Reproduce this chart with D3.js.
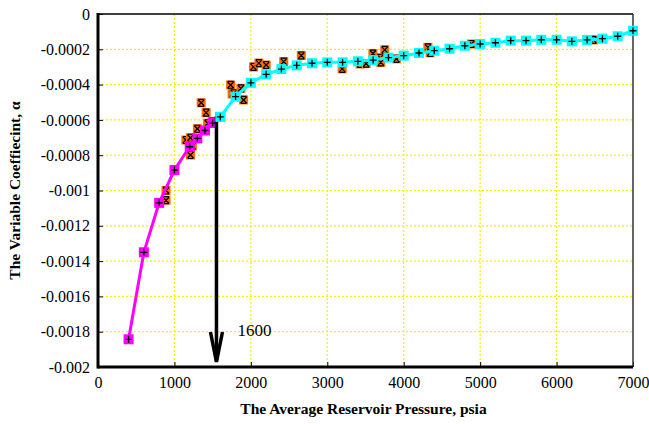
<!DOCTYPE html>
<html>
<head>
<meta charset="utf-8">
<script src="https://cdn.jsdelivr.net/npm/d3@7"></script>
<style>
  body { margin: 0; background: #fff; }
</style>
</head>
<body>
<div id="chart"></div>
<script>
// magenta fit (low pressure part)
const lowP = [400, 600, 800, 1000, 1200, 1300, 1400, 1500, 1600];
const lowAlpha = [-0.001843, -0.00135, -0.00107, -0.000884, -0.000752, -0.000705, -0.00066, -0.000618, -0.000583];

// cyan fit (high pressure part)
const highP = [1600, 1800, 2000, 2200, 2400, 2600, 2800, 3000, 3200, 3400, 3600, 3800, 4000, 4200, 4400,
    4600, 4800, 5000, 5200, 5400, 5600, 5800, 6000, 6200, 6400, 6600, 6800, 7000];
const highAlpha = [-0.000583, -0.000468, -0.00039, -0.000342, -0.000312, -0.000291, -0.000279, -0.000274, -0.000274,
    -0.000268, -0.000261, -0.000247, -0.000236, -0.000221, -0.000208, -0.000197, -0.00018, -0.00017, -0.000163,
    -0.000151, -0.000151, -0.000146, -0.000146, -0.000155, -0.000147, -0.00014, -0.000126, -0.000095];

// field data (orange)
const fieldP = [890, 890, 1150, 1210, 1210, 1235, 1300, 1350, 1415, 1435, 1495, 1735, 1755, 1775, 1870, 1905,
    2035, 2105, 2200, 2430, 2660, 3195, 3430, 3508, 3597, 3605, 3693, 3700, 3752, 3905, 4316, 4345, 4885, 6481];
const fieldAlpha = [-0.001, -0.001055, -0.000714, -0.000701, -0.000799, -0.000748, -0.00065, -0.000503, -0.000559,
    -0.000619, -0.00061, -0.000402, -0.000453, -0.000449, -0.000421, -0.000487, -0.0003, -0.000278, -0.000289,
    -0.00027, -0.000235, -0.000311, -0.000283, -0.000281, -0.000224, -0.000261, -0.000249, -0.000274, -0.000203,
    -0.000254, -0.000189, -0.00022, -0.00017, -0.000147];

const xTicks = [0, 1000, 2000, 3000, 4000, 5000, 6000, 7000];
const yTicks = [0, -0.0002, -0.0004, -0.0006, -0.0008, -0.001, -0.0012, -0.0014, -0.0016, -0.0018, -0.002];
const arrowP = 1550;
const arrowLabel = '1600';

const serif = '"Liberation Serif", "Times New Roman", Tinos, "DejaVu Serif", serif';
const width = 649;
const height = 424;
const margin = {top: 14, right: 16, bottom: 57, left: 98};

const svg = d3.select('#chart')
    .append('svg')
        .attr('width', width)
        .attr('height', height)
        .style('font-family', serif);

const x = d3.scaleLinear()
    .domain([0, 7000])
    .range([margin.left, width - margin.right]);
const y = d3.scaleLinear()
    .domain([-0.002, 0])
    .range([height - margin.bottom, margin.top]);

// grid
const grid = svg.append('g')
    .attr('stroke', '#ffee00')
    .attr('stroke-width', 1.2)
    .attr('stroke-dasharray', '2 2');
grid.selectAll('.gx')
    .data(xTicks.slice(1, -1))
    .join('line')
        .attr('x1', d => x(d)).attr('x2', d => x(d))
        .attr('y1', y(0)).attr('y2', y(-0.002));
grid.selectAll('.gy')
    .data(yTicks.slice(1, -1))
    .join('line')
        .attr('x1', x(0)).attr('x2', x(7000))
        .attr('y1', d => y(d)).attr('y2', d => y(d));

// axes
svg.append('g')
    .attr('transform', `translate(0, ${y(-0.002)})`)
    .call(d3.axisBottom(x).tickValues(xTicks).tickSize(-5).tickPadding(10).tickFormat(d3.format('d')))
    .attr('font-family', null)
    .call(g => g.select('.domain').remove())
    .call(g => g.selectAll('text').attr('font-size', 16).attr('fill', '#000').style('font-family', serif));
svg.append('g')
    .attr('transform', `translate(${x(0)}, 0)`)
    .call(d3.axisLeft(y).tickValues(yTicks).tickSize(-5).tickPadding(8).tickFormat(d => d === 0 ? '0' : String(+d.toFixed(4))))
    .attr('font-family', null)
    .call(g => g.select('.domain').remove())
    .call(g => g.selectAll('text').attr('font-size', 16).attr('fill', '#000').style('font-family', serif));

// frame
svg.append('line').attr('x1', x(0)).attr('x2', x(7000)).attr('y1', y(0)).attr('y2', y(0))
    .attr('stroke', '#000').attr('stroke-width', 1.5);
svg.append('line').attr('x1', x(7000)).attr('x2', x(7000)).attr('y1', y(0)).attr('y2', y(-0.002))
    .attr('stroke', '#333').attr('stroke-width', 1.5);
svg.append('line').attr('x1', x(0)).attr('x2', x(0)).attr('y1', y(0) - 1).attr('y2', y(-0.002) + 1.5)
    .attr('stroke', '#000').attr('stroke-width', 3);
svg.append('line').attr('x1', x(0)).attr('x2', x(7000)).attr('y1', y(-0.002)).attr('y2', y(-0.002))
    .attr('stroke', '#000').attr('stroke-width', 3);

// field points
const fieldData = fieldP.map((p, i) => ({p, a: fieldAlpha[i]}));
const fm = svg.append('g').selectAll('g')
    .data(fieldData)
    .join('g')
        .attr('transform', d => `translate(${x(d.p)}, ${y(d.a)})`);
fm.append('rect')
    .attr('x', -4.5).attr('y', -4.5).attr('width', 9).attr('height', 9)
    .attr('fill', '#ff6a00');
fm.append('path')
    .attr('d', 'M-3,-3L3,3M-3,3L3,-3M-3,-3.5H3M-3,3.5H3')
    .attr('stroke', '#000').attr('stroke-width', 1.2);

const line = d3.line().x(d => x(d.p)).y(d => y(d.a));

const drawSeries = (ps, as, color) => {
    const data = ps.map((p, i) => ({p, a: as[i]}));
    svg.append('path')
        .datum(data)
        .attr('d', line)
        .attr('fill', 'none')
        .attr('stroke', color)
        .attr('stroke-width', 3);
    const m = svg.append('g').selectAll('g')
        .data(data)
        .join('g')
            .attr('transform', d => `translate(${x(d.p)}, ${y(d.a)})`);
    m.append('rect')
        .attr('x', -5).attr('y', -5).attr('width', 10).attr('height', 10)
        .attr('fill', color);
    m.append('path')
        .attr('d', 'M-3.5,0H3.5M0,-3.5V3.5')
        .attr('stroke', '#000').attr('stroke-width', 1.3);
};

drawSeries(lowP, lowAlpha, '#ff00ff');

// arrow at 1600 psia
const ax = x(arrowP);
svg.append('line')
    .attr('x1', ax).attr('x2', ax)
    .attr('y1', y(-0.000583) - 1).attr('y2', y(-0.002) - 6)
    .attr('stroke', '#000').attr('stroke-width', 3.5);
svg.append('path')
    .attr('d', `M${ax - 6},${y(-0.002) - 35}L${ax},${y(-0.002) - 5}L${ax + 6},${y(-0.002) - 35}`)
    .attr('fill', 'none')
    .attr('stroke', '#000').attr('stroke-width', 3.5);
svg.append('text')
    .attr('x', ax + 21).attr('y', y(-0.002) - 31)
    .attr('font-size', 17)
    .style('font-family', serif)
    .text(arrowLabel);

drawSeries(highP, highAlpha, '#00ffff');

// axis titles
svg.append('text')
    .attr('x', (x(0) + x(7000)) / 2 - 2)
    .attr('y', height - 10)
    .attr('text-anchor', 'middle')
    .attr('font-size', 15.5)
    .attr('font-weight', 700)
    .style('font-family', serif)
    .text('The Average Reservoir Pressure, psia');
svg.append('text')
    .attr('transform', `translate(20, ${(y(0) + y(-0.002)) / 2}) rotate(-90)`)
    .attr('text-anchor', 'middle')
    .attr('font-size', 15.5)
    .attr('font-weight', 700)
    .style('font-family', serif)
    .text('The Variable Coeffiecint, α');
</script>
</body>
</html>
